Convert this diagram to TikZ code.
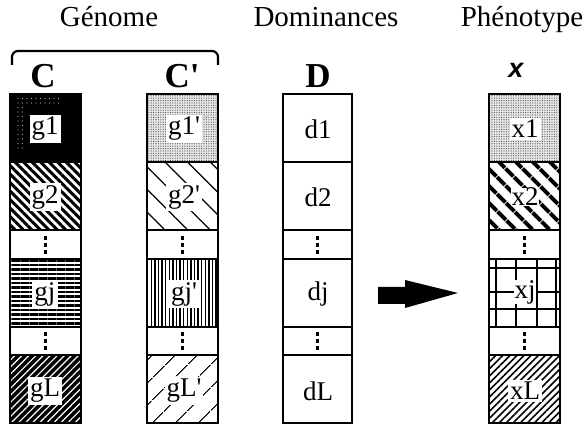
\documentclass[tikz,border=0pt]{standalone}
\usepackage{fontspec}
\setmainfont{Liberation Serif}
\newfontfamily\xsans{Liberation Sans}
\usetikzlibrary{patterns,patterns.meta}
\begin{document}
\begin{tikzpicture}[x=1pt,y=-1pt,
  frame/.style={draw=black,line width=2.4pt},
  sep/.style={draw=black,line width=1.8pt},
  lab/.style={fill=white,inner sep=2pt,font=\fontsize{27}{27}\selectfont},
  plainlab/.style={inner sep=2pt,font=\fontsize{27}{27}\selectfont},
  title/.style={anchor=base,font=\fontsize{29}{29}\selectfont},
  colname/.style={anchor=base,font=\fontsize{35}{35}\selectfont\bfseries},
  dotsq/.style={fill=black},
  grey dots/.style={pattern={Dots[distance=2.4pt,radius=0.55pt]},pattern color=black!75},
]
\useasboundingbox (0,0) rectangle (587,427);

% titles
\node[title] (tG) at (109,27) {Génome};
\node[title] (tD) at (326,27) {Dominances};
\node[title] (tP) at (522,27) {Phénotype};

% brace over genome
\draw[line width=2.2pt,rounded corners=6pt] (12,65) -- (12,51) -- (218,51) -- (218,65);

% column names
\node[colname] (nC) at (43,88) {C};
\node[colname] (nCp) at (182,88) {C\textquotesingle};
\node[colname] (nD) at (318,88) {D};
\node[anchor=base,font=\xsans\fontsize{27}{27}\selectfont\bfseries\itshape] (nX) at (516,78) {x};

% ---------- column C ----------
\fill[black] (10,94) rectangle (81,162);
\path[pattern={Dots[distance=4.5pt,radius=0.55pt]},pattern color=gray!70] (14,98) rectangle (24,150);
\path[pattern={Dots[distance=4.5pt,radius=0.55pt]},pattern color=gray!70] (24,98) rectangle (60,104);
\path[pattern={Lines[angle=-45,distance=6pt,line width=3pt]}] (10,162) rectangle (81,230);
\path[pattern={Lines[angle=0,distance=4.5pt,line width=2.2pt]}] (10,259) rectangle (81,327);
\fill[black] (10,355) rectangle (81,423);
\path[pattern={Lines[angle=45,distance=5pt,line width=1.2pt]},pattern color=white] (10,355) rectangle (81,423);

% ---------- column C' ----------
\fill[gray!20] (147,94) rectangle (218,162);
\path[grey dots] (147,94) rectangle (218,162);
\path[pattern={Lines[angle=-45,distance=16pt,line width=1.2pt]}] (147,162) rectangle (218,230);
\path[pattern={Lines[angle=90,distance=3.6pt,line width=1.4pt]}] (147,259) rectangle (218,327);
\path[pattern={Lines[angle=45,distance=17pt,line width=1.2pt]}] (147,355) rectangle (218,423);

% ---------- column x ----------
\fill[gray!20] (489,94) rectangle (560,162);
\path[grey dots] (489,94) rectangle (560,162);
\path[pattern={Lines[angle=-45,distance=13pt,line width=4.5pt]}] (489,162) rectangle (560,230);
\foreach \gx in {496,516,537,556} \draw[line width=1.5pt] (\gx,259) -- (\gx,327);
\foreach \gy in {268,292,309} \draw[line width=1.5pt] (489,\gy) -- (560,\gy);
\path[pattern={Lines[angle=45,distance=5pt,line width=1.6pt]}] (489,355) rectangle (560,423);

% ---------- frames and separators ----------
\foreach \cl/\cr in {10/81,147/218,283/352,489/560}{
  \foreach \sy in {162,230,259,327,355}
    \draw[sep] (\cl,\sy) -- (\cr,\sy);
  \draw[frame] (\cl,94) rectangle (\cr,423);
  \foreach \dy in {238,245,252,334,341,348}
    \fill[dotsq] ({(\cl+\cr)/2-1.7},\dy-1.8) rectangle ({(\cl+\cr)/2+1.7},\dy+1.8);
}

% ---------- labels ----------
\node[lab] (g1) at (45,129) {g1};
\node[lab] (g2) at (45,197) {g2};
\node[lab] (gj) at (45,294) {gj};
\node[lab] (gL) at (45,391) {gL};

\node[lab] (g1p) at (184,129) {g1\textquotesingle};
\node[lab] (g2p) at (184,197) {g2\textquotesingle};
\node[lab] (gjp) at (184,294) {gj\textquotesingle};
\node[lab] (gLp) at (184,391) {gL\textquotesingle};

\node[plainlab] (d1) at (318,129) {d1};
\node[plainlab] (d2) at (318,197) {d2};
\node[plainlab] (dj) at (318,294) {dj};
\node[plainlab] (dL) at (318,391) {dL};

\node[lab] (x1) at (525,129) {x1};
\node[lab,inner sep=0.5pt] (x2) at (525,197) {x2};
\node[lab,inner sep=0.5pt] (xj) at (525,292) {xj};
\node[lab] (xL) at (525,391) {xL};

% ---------- arrow ----------
\coordinate (aS) at (378,295);
\coordinate (aT) at (458,293);
\fill[black] (378,287) -- (405,287) -- (405,280) -- (aT) -- (405,308) -- (405,304) -- (378,304) -- cycle;
\end{tikzpicture}
\end{document}
